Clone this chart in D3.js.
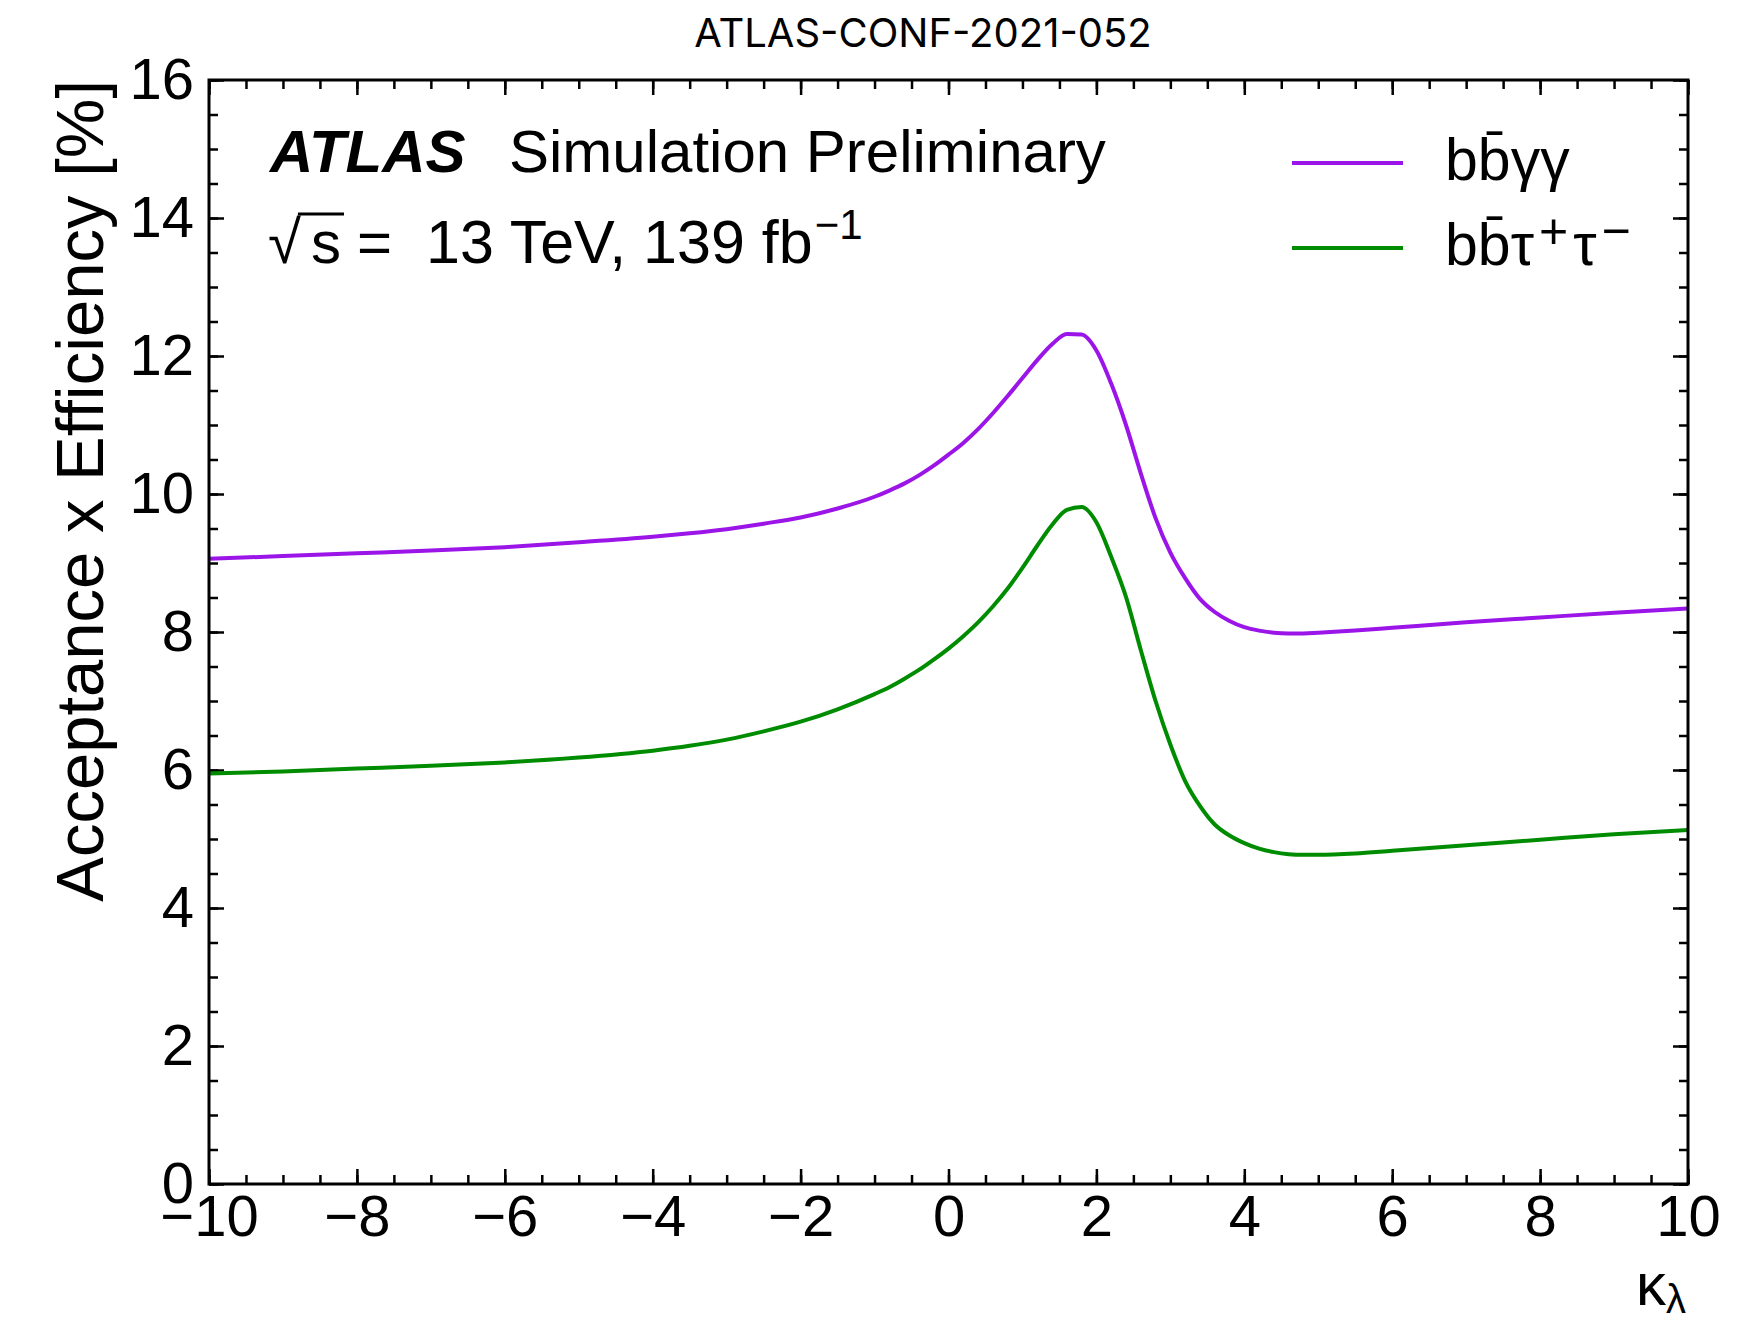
<!DOCTYPE html>
<html>
<head>
<meta charset="utf-8">
<script src="https://cdn.jsdelivr.net/npm/d3@7"></script>
<style>
  body { margin: 0; background: #fff; }
  svg text { font-family: "Liberation Sans", Arial, Helvetica, sans-serif; fill: #000; }
</style>
</head>
<body>
<script>
const kappa = [-10, -9, -8, -7, -6, -5, -4, -3.5, -3, -2.5, -2, -1.5, -1, -0.8, -0.6, -0.4, -0.2,
  0, 0.2, 0.4, 0.6, 0.8, 1.0, 1.2, 1.4, 1.6, 1.8, 2.0, 2.2, 2.4, 2.6, 2.8, 3.0,
  3.2, 3.4, 3.6, 3.8, 4.0, 4.2, 4.4, 4.6, 4.8, 5.0, 5.5, 6, 7, 8, 9, 10];

// acceptance x efficiency [%], bbyy
const bbyy = [9.06, 9.10, 9.14, 9.18, 9.23, 9.30, 9.38, 9.43, 9.49, 9.57, 9.66, 9.79, 9.96, 10.05, 10.15, 10.27, 10.41,
  10.57, 10.74, 10.94, 11.17, 11.42, 11.68, 11.94, 12.17, 12.32, 12.31, 12.08, 11.60, 11.00, 10.30, 9.65, 9.15,
  8.78, 8.48, 8.29, 8.16, 8.07, 8.02, 7.99, 7.98, 7.98, 7.99, 8.02, 8.06, 8.14, 8.21, 8.28, 8.34];

// acceptance x efficiency [%], bbtautau
const bbtautau = [5.95, 5.98, 6.02, 6.06, 6.11, 6.18, 6.28, 6.35, 6.44, 6.56, 6.70, 6.88, 7.10, 7.20, 7.32, 7.45, 7.60,
  7.76, 7.94, 8.14, 8.37, 8.63, 8.93, 9.25, 9.55, 9.77, 9.81, 9.59, 9.09, 8.51, 7.74, 7.00, 6.37,
  5.84, 5.48, 5.21, 5.05, 4.94, 4.86, 4.81, 4.78, 4.77, 4.77, 4.79, 4.83, 4.91, 4.99, 5.07, 5.13];

const xTicks = [-10, -8, -6, -4, -2, 0, 2, 4, 6, 8, 10];
const yTicks = [0, 2, 4, 6, 8, 10, 12, 14, 16];
const xMinor = d3.range(-10, 10.001, 0.5);
const yMinor = d3.range(0, 16.001, 0.5);

const W = 1753, H = 1320;
const box = { left: 209, top: 80, right: 1688, bottom: 1184 };

const svg = d3.select('body').append('svg')
  .attr('width', W)
  .attr('height', H);

const x = d3.scaleLinear().domain([-10, 10]).range([box.left, box.right]);
const y = d3.scaleLinear().domain([0, 16]).range([box.bottom, box.top]);

const minus = d => d < 0 ? '\u2212' + Math.abs(d) : String(d);

// ---- axes (ticks point inward, on all four sides)
function addAxis(axis, tx, ty) {
  const g = svg.append('g').attr('transform', `translate(${tx},${ty})`).call(axis);
  g.select('.domain').remove();
  g.selectAll('line').attr('stroke', '#000').attr('stroke-width', 2.5);
  g.selectAll('text').attr('font-size', 58).attr('fill', '#000')
    .attr('font-family', '"Liberation Sans", Arial, sans-serif');
  return g;
}

addAxis(d3.axisBottom(x).tickValues(xMinor).tickSizeInner(-9).tickSizeOuter(0).tickFormat(''), 0, box.bottom);
addAxis(d3.axisBottom(x).tickValues(xTicks).tickSizeInner(-15).tickSizeOuter(0).tickPadding(11).tickFormat(minus), 0, box.bottom);
addAxis(d3.axisTop(x).tickValues(xMinor).tickSizeInner(-9).tickSizeOuter(0).tickFormat(''), 0, box.top);
addAxis(d3.axisTop(x).tickValues(xTicks).tickSizeInner(-15).tickSizeOuter(0).tickFormat(''), 0, box.top);

addAxis(d3.axisLeft(y).tickValues(yMinor).tickSizeInner(-9).tickSizeOuter(0).tickFormat(''), box.left, 0);
addAxis(d3.axisLeft(y).tickValues(yTicks).tickSizeInner(-15).tickSizeOuter(0).tickPadding(15).tickFormat(d => d), box.left, 0);
addAxis(d3.axisRight(y).tickValues(yMinor).tickSizeInner(-9).tickSizeOuter(0).tickFormat(''), box.right, 0);
addAxis(d3.axisRight(y).tickValues(yTicks).tickSizeInner(-15).tickSizeOuter(0).tickFormat(''), box.right, 0);

// ---- curves
const series = [
  { name: 'bbyy', values: bbyy, color: '#9b14e8' },
  { name: 'bbtautau', values: bbtautau, color: '#008c00' }
];

const line = d3.line()
  .x((d, i) => x(kappa[i]))
  .y(d => y(d))
  .curve(d3.curveMonotoneX);

svg.append('g').selectAll('path')
  .data(series)
  .enter()
  .append('path')
  .attr('d', d => line(d.values))
  .attr('fill', 'none')
  .attr('stroke', d => d.color)
  .attr('stroke-width', 4)
  .attr('stroke-linejoin', 'round');

// frame
svg.append('rect')
  .attr('x', box.left).attr('y', box.top)
  .attr('width', box.right - box.left).attr('height', box.bottom - box.top)
  .attr('fill', 'none').attr('stroke', '#000').attr('stroke-width', 3);

// ---- axis titles
svg.append('text')
  .attr('transform', 'translate(103,80) rotate(-90)')
  .attr('text-anchor', 'end')
  .attr('font-size', 67)
  .text('Acceptance x Efficiency [%]');

const xt = svg.append('text')
  .attr('x', 1686).attr('y', 1305)
  .attr('text-anchor', 'end')
  .attr('font-size', 60);
xt.append('tspan').text('\u03ba');
xt.append('tspan').attr('font-size', 40).attr('dy', 8).text('\u03bb');

// ---- labels
svg.append('text')
  .attr('x', 923).attr('y', 47)
  .attr('text-anchor', 'middle')
  .attr('font-size', 40)
  .style('font-family', 'Inter, "Open Sans", sans-serif')
  .text('ATLAS-CONF-2021-052');

svg.append('text')
  .attr('x', 270).attr('y', 172)
  .attr('font-size', 60)
  .attr('font-weight', 'bold')
  .attr('font-style', 'italic')
  .text('ATLAS');
svg.append('text')
  .attr('x', 509).attr('y', 172)
  .attr('font-size', 60)
  .text('Simulation Preliminary');

// sqrt(s) = 13 TeV, 139 fb^-1
const lumi = svg.append('text')
  .attr('y', 263)
  .attr('font-size', 60);
lumi.append('tspan').attr('x', 268).text('\u221a');
lumi.append('tspan').attr('x', 311).text('s');
lumi.append('tspan').attr('x', 357).text('=');
lumi.append('tspan').attr('x', 426).attr('font-size', 61).text('13 TeV, 139 fb');
lumi.append('tspan').attr('font-size', 42).attr('dx', 2).attr('dy', -24).text('\u22121');

// bar over the s of sqrt(s)
{
  const node = lumi.node();
  const r = node.getExtentOfChar(0);
  const s = node.getExtentOfChar(1);
  svg.append('line')
    .attr('x1', r.x + r.width - 3).attr('x2', s.x + s.width + 3)
    .attr('y1', 214).attr('y2', 214)
    .attr('stroke', '#000').attr('stroke-width', 3);
}

// ---- legend
const legend = svg.append('g');
const legendRows = [
  { y: 163, color: series[0].color, parts: [['b', 0], ['b\u0304', 0], ['\u03b3\u03b3', 0]] },
  { y: 248, color: series[1].color, parts: [['b', 0], ['b\u0304', 0], ['\u03c4', 0], ['+', 1], ['\u03c4', 0], ['\u2212', 1]] }
];
legendRows.forEach(row => {
  legend.append('line')
    .attr('x1', 1292).attr('x2', 1403)
    .attr('y1', row.y).attr('y2', row.y)
    .attr('stroke', row.color).attr('stroke-width', 4);
  const t = legend.append('text')
    .attr('x', 1445).attr('y', row.y + 17)
    .attr('font-size', 59);
  let up = false;
  row.parts.forEach(([s, sup]) => {
    const ts = t.append('tspan').text(s);
    if (sup && !up) { ts.attr('font-size', 50).attr('dy', -17).attr('dx', 5); up = true; }
    else if (!sup && up) { ts.attr('dy', 17).attr('dx', 5); up = false; }
  });
});
</script>
</body>
</html>
